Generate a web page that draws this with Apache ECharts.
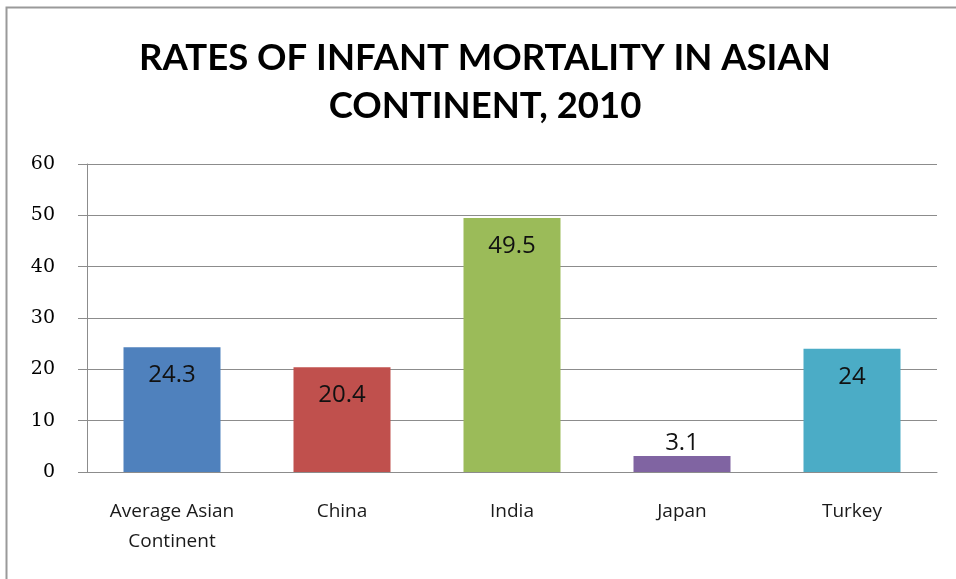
<!DOCTYPE html>
<html>
<head>
<meta charset="utf-8">
<script src="https://cdn.jsdelivr.net/npm/echarts@6/dist/echarts.min.js"></script>
<style>html,body{margin:0;padding:0;background:#fff;}#c{width:956px;height:579px;}</style>
</head>
<body>
<div id="c"></div>
<script>
var titleText = 'RATES OF INFANT MORTALITY IN ASIAN\nCONTINENT, 2010';
var categories = ['Average Asian\nContinent', 'China', 'India', 'Japan', 'Turkey'];
var values = [24.3, 20.4, 49.5, 3.1, 24];
var colors = ['#4F81BD', '#C0504D', '#9BBB59', '#8064A2', '#4BACC6'];
var labelPositions = ['insideTop', 'insideTop', 'insideTop', 'top', 'insideTop'];
var yTicks = [0, 10, 20, 30, 40, 50, 60];

var chart = echarts.init(document.getElementById('c'), null, {renderer: 'canvas'});
var data = values.map(function (v, i) {
  return {
    value: v,
    itemStyle: {color: colors[i]},
    label: {position: labelPositions[i], distance: labelPositions[i] === 'top' ? 1 : 16}
  };
});
chart.setOption({
  backgroundColor: '#fff',
  animation: false,
  graphic: [{
    type: 'rect',
    shape: {x: 6.5, y: 7.5, width: 1000, height: 1000},
    style: {fill: 'none', stroke: '#9a9a9a', lineWidth: 2},
    silent: true
  }],
  title: {
    text: titleText,
    left: 480,
    textAlign: 'center',
    top: 29,
    textStyle: {fontFamily: 'Lato', fontWeight: 'bold', fontSize: 36.5, lineHeight: 48, color: '#000'}
  },
  grid: {left: 87, right: 19, top: 164, bottom: 107, containLabel: false},
  xAxis: {
    type: 'category',
    data: categories,
    axisLine: {lineStyle: {color: '#8c8c8c', width: 1}},
    axisTick: {show: false},
    axisLabel: {fontFamily: 'Open Sans', fontSize: 19, color: '#1a1a1a', lineHeight: 30, margin: 25, interval: 0}
  },
  yAxis: {
    type: 'value',
    min: 0, max: 60, interval: 10,
    axisLine: {show: true, lineStyle: {color: '#8c8c8c', width: 1}},
    axisTick: {show: true, length: 9, lineStyle: {color: '#8c8c8c'}},
    splitLine: {lineStyle: {color: '#8c8c8c', width: 1}},
    axisLabel: {fontFamily: 'DejaVu Serif', fontSize: 19, color: '#000', margin: 32,
      formatter: function (v) { return yTicks.indexOf(v) >= 0 ? String(v) : ''; }}
  },
  series: [{
    type: 'bar',
    data: data,
    barWidth: 97,
    label: {show: true, fontFamily: 'Open Sans', fontSize: 24, color: '#111'}
  }]
});
</script>
</body>
</html>
